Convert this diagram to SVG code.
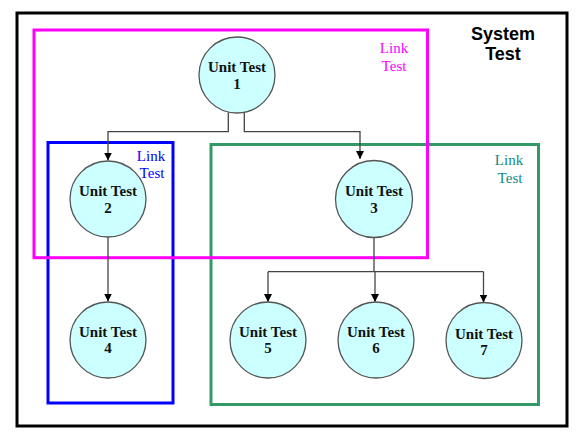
<svg xmlns="http://www.w3.org/2000/svg" width="580" height="439" viewBox="0 0 580 439">
<style>
.frame{fill:none;stroke-width:3}
.node circle{fill:#ccffff;stroke:#555555;stroke-width:1.3}
.node text{font-family:"Liberation Serif","Times New Roman",serif;font-weight:bold;font-size:15px;fill:#111111;text-anchor:middle}
.lbl{font-family:"Liberation Serif","Times New Roman",serif;font-size:15px;text-anchor:middle}
.conn{fill:none;stroke:#444444;stroke-width:1.3}
</style>
<defs>
<marker id="arr" viewBox="0 0 10 10" refX="10" refY="5" markerWidth="8" markerHeight="8" markerUnits="userSpaceOnUse" orient="auto">
<path d="M0,0 L10,5 L0,10 z" fill="#000000"/>
</marker>
</defs>
<rect width="580" height="439" fill="#ffffff"/>
<g id="frames">
<rect x="17" y="13" width="550" height="413" class="frame" stroke="#000000"/>
<rect x="48" y="142.5" width="125" height="260.5" class="frame" stroke="#0000ff"/>
<rect x="211" y="144.5" width="327.5" height="260" class="frame" stroke="#339966"/>
<rect x="34" y="30" width="393.5" height="227.7" class="frame" stroke="#ff00ff"/>
</g>
<g id="labels">
<text x="503" y="40" font-family="Liberation Sans, Arial, sans-serif" font-weight="bold" font-size="18" text-anchor="middle" fill="#000000">System</text>
<text x="503" y="60" font-family="Liberation Sans, Arial, sans-serif" font-weight="bold" font-size="18" text-anchor="middle" fill="#000000">Test</text>
<text x="394" y="53" class="lbl" fill="#ff00ff">Link</text>
<text x="394" y="71" class="lbl" fill="#ff00ff">Test</text>
<text x="151" y="161" class="lbl" fill="#0000ff">Link</text>
<text x="152" y="178" class="lbl" fill="#0000ff">Test</text>
<text x="509" y="165" class="lbl" fill="#138a8a">Link</text>
<text x="510" y="182.7" class="lbl" fill="#138a8a">Test</text>
</g>
<g id="connectors">
<path class="conn" d="M228.3,112.5 V131.7 H108 V160.5" marker-end="url(#arr)"/>
<path class="conn" d="M244.3,112.5 V131.7 H360 V159" marker-end="url(#arr)"/>
<path class="conn" d="M108,237 V301.5" marker-end="url(#arr)"/>
<path class="conn" d="M374,237.5 V271.7 M268,271.7 H483.5"/>
<path class="conn" d="M268,271.7 V302" marker-end="url(#arr)"/>
<path class="conn" d="M375,271.7 V302" marker-end="url(#arr)"/>
<path class="conn" d="M483.5,271.7 V302.5" marker-end="url(#arr)"/>
</g>
<g id="node1" class="node"><circle cx="237" cy="75" r="38"/><text x="237" y="72">Unit Test</text><text x="237" y="89">1</text></g>
<g id="node2" class="node"><circle cx="108" cy="199" r="38"/><text x="108" y="196">Unit Test</text><text x="108" y="213">2</text></g>
<g id="node3" class="node"><circle cx="374" cy="199" r="38.5"/><text x="374" y="196">Unit Test</text><text x="374" y="213">3</text></g>
<g id="node4" class="node"><circle cx="108" cy="340" r="38"/><text x="108" y="337">Unit Test</text><text x="108" y="353">4</text></g>
<g id="node5" class="node"><circle cx="268" cy="340" r="38"/><text x="268" y="337">Unit Test</text><text x="268" y="353">5</text></g>
<g id="node6" class="node"><circle cx="376" cy="340" r="38"/><text x="376" y="337">Unit Test</text><text x="376" y="353">6</text></g>
<g id="node7" class="node"><circle cx="484" cy="340.5" r="38"/><text x="484" y="339">Unit Test</text><text x="484" y="355">7</text></g>
</svg>
